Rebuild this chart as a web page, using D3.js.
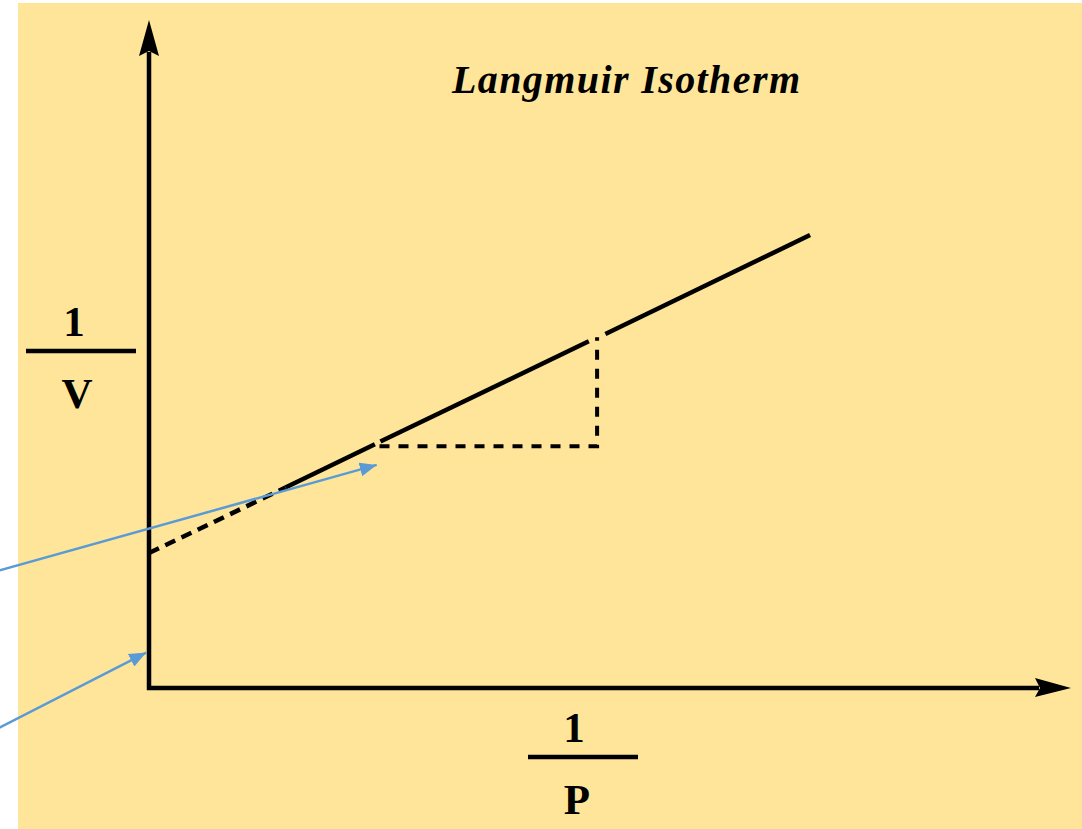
<!DOCTYPE html>
<html>
<head>
<meta charset="utf-8">
<script src="https://cdn.jsdelivr.net/npm/d3@7"></script>
<style>
  body { margin: 0; background: #fff; }
  svg { display: block; }
</style>
</head>
<body>
<svg id="chart" width="1082" height="829"></svg>
<script>
// chart content (plot units)
const title = "Langmuir Isotherm";
const yLabel = ["1", "V"];
const xLabel = ["1", "P"];
const axisMax = [10, 10];

// extrapolated part of the fit, down to the intercept
const extrapolated = [[0, 2.02], [1.48, 3.00]];
// solid fit line pieces (broken where the slope triangle meets it)
const measured = [
    [[1.48, 3.00], [2.45, 3.65]],
    [[2.51, 3.69], [4.77, 5.19]],
    [[4.95, 5.30], [7.17, 6.78]]
];
// slope triangle
const slopeTri = [[2.50, 3.62], [4.86, 3.62], [4.86, 5.25]];
// callout arrows: [from, to]
const callouts = [
    [[-1.70, 1.73], [2.47, 3.34]],
    [[-1.70, -0.65], [-0.03, 0.53]]
];

const svg = d3.select("#chart");

svg.append("rect")
    .attr("x", 18).attr("y", 3)
    .attr("width", 1064).attr("height", 826)
    .attr("fill", "#FFE599");

const x = d3.scaleLinear().domain([0, axisMax[0]]).range([149, 1071]);
const y = d3.scaleLinear().domain([0, axisMax[1]]).range([688, 20]);

const defs = svg.append("defs");
defs.append("marker")
    .attr("id", "blueHead")
    .attr("markerUnits", "userSpaceOnUse")
    .attr("viewBox", "0 -7 17 14")
    .attr("refX", 17).attr("refY", 0)
    .attr("markerWidth", 17).attr("markerHeight", 14)
    .attr("orient", "auto")
    .append("path")
    .attr("d", "M0,-7L17,0L0,7Z")
    .attr("fill", "#5B9BD5");

const line = d3.line().x(d => x(d[0])).y(d => y(d[1]));

// axes
const g = svg.append("g");
g.append("line")
    .attr("x1", x(0)).attr("x2", x(0))
    .attr("y1", y(0) + 2).attr("y2", y(axisMax[1]) + 32)
    .attr("stroke", "#000").attr("stroke-width", 4.5);
g.append("line")
    .attr("x1", x(0) - 2).attr("x2", x(axisMax[0]) - 32)
    .attr("y1", y(0)).attr("y2", y(0))
    .attr("stroke", "#000").attr("stroke-width", 4.5);

// notched arrow heads at the axis ends
const tipY = [x(0), y(axisMax[1])];
g.append("path")
    .attr("d", `M${tipY[0]},${tipY[1]}L${tipY[0] + 10},${tipY[1] + 36}L${tipY[0]},${tipY[1] + 31}L${tipY[0] - 10},${tipY[1] + 36}Z`)
    .attr("fill", "#000");
const tipX = [x(axisMax[0]), y(0)];
g.append("path")
    .attr("d", `M${tipX[0]},${tipX[1]}L${tipX[0] - 36},${tipX[1] - 10}L${tipX[0] - 31},${tipX[1]}L${tipX[0] - 36},${tipX[1] + 9}Z`)
    .attr("fill", "#000");

// fit line
g.append("path")
    .attr("d", line(extrapolated))
    .attr("fill", "none").attr("stroke", "#000")
    .attr("stroke-width", 4.5).attr("stroke-dasharray", "11,7");

g.selectAll(".seg")
    .data(measured)
    .enter().append("path")
    .attr("class", "seg")
    .attr("d", line)
    .attr("fill", "none").attr("stroke", "#000")
    .attr("stroke-width", 4.5);

g.append("path")
    .attr("d", line(slopeTri))
    .attr("fill", "none").attr("stroke", "#000")
    .attr("stroke-width", 4).attr("stroke-dasharray", "10,9");

// callout arrows
g.selectAll(".callout")
    .data(callouts)
    .enter().append("path")
    .attr("class", "callout")
    .attr("d", line)
    .attr("fill", "none").attr("stroke", "#5B9BD5")
    .attr("stroke-width", 2.5)
    .attr("marker-end", "url(#blueHead)");

// title
svg.append("text")
    .attr("x", 452).attr("y", 93)
    .attr("textLength", 348).attr("lengthAdjust", "spacing")
    .style("font-family", "'Liberation Serif', 'Times New Roman', serif")
    .style("font-style", "italic").style("font-weight", "bold")
    .style("font-size", "40px")
    .text(title);

// fraction labels
function fraction(cx, barY, barX0, barX1, parts) {
    const f = svg.append("g")
        .style("font-family", "'Liberation Serif', 'Times New Roman', serif")
        .style("font-weight", "bold")
        .style("font-size", "43px")
        .attr("text-anchor", "middle");
    f.append("text").attr("x", cx).attr("y", barY - 15).text(parts[0]);
    f.append("line")
        .attr("x1", barX0).attr("x2", barX1)
        .attr("y1", barY).attr("y2", barY)
        .attr("stroke", "#000").attr("stroke-width", 4.5);
    f.append("text").attr("x", cx + 3).attr("y", barY + 57).text(parts[1]);
}
fraction(74, 351, 26, 136, yLabel);
fraction(574, 757, 528, 638, xLabel);
</script>
</body>
</html>
